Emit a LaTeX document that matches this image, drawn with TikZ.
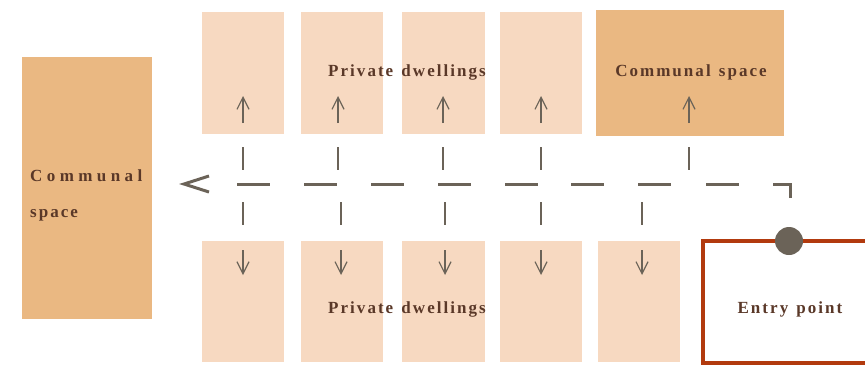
\documentclass[tikz,border=0pt]{standalone}
\usepackage{fontspec}
\setmainfont{Liberation Serif}[LetterSpace=12,WordSpace=1.3]
\newfontfamily\widefont{Liberation Serif}[LetterSpace=26]
\usetikzlibrary{arrows.meta}
\definecolor{peach}{HTML}{F7D9C1}
\definecolor{communal}{HTML}{EAB882}
\definecolor{greyline}{HTML}{6B6358}
\definecolor{redline}{HTML}{B23A0E}
\definecolor{txt}{HTML}{5A3828}
\tikzset{
  dwell/.style={fill=peach, draw=none},
  comm/.style={fill=communal, draw=none},
  lbl/.style={text=txt, font=\bfseries\fontsize{17}{20}\selectfont, inner sep=0pt},
  tick/.style={draw=greyline, line width=1.4pt},
  inarrow/.style={draw=greyline, line width=1.3pt, -{Straight Barb[length=12pt,width=12pt,line width=1.2pt]}},
}
\begin{document}
\begin{tikzpicture}[x=1pt,y=-1pt]
\useasboundingbox (0,0) rectangle (865,365);
% left communal space
\fill[comm] (22,57) rectangle (152,319);
\node[lbl, anchor=west, font=\widefont\bfseries\fontsize{17}{20}\selectfont] (cl1) at (30,176) {Communal};
\node[lbl, anchor=west] (cl2) at (30,215) {space};
% top row
\foreach \a/\b [count=\i] in {202/284,301/383,402/485,500/582}{
  \fill[dwell] (\a,12) rectangle (\b,134);
}
\fill[comm] (596,10) rectangle (784,136);
\node[lbl] (pt) at (407,72) {Private dwellings};
\node[lbl] (ct) at (691,72) {Communal space};
% bottom row
\foreach \a/\b in {202/284,301/383,402/485,500/582,598/680}{
  \fill[dwell] (\a,241) rectangle (\b,362);
}
\node[lbl] (pb) at (407,309) {Private dwellings};
% entry
\draw[redline, line width=3.5pt, fill=white] (870,241) -- (703,241) -- (703,363) -- (870,363);
\node[lbl] (ep) at (790,309) {Entry point};
% main dashed line
\coordinate (corner) at (790,184);
\coordinate (start) at (790,198);
\draw[greyline, line width=3pt] (start) -- (corner) -- (773,184);
\foreach \a in {706,638,571,505,438,371,304,237}{
  \draw[greyline, line width=3pt] (\a,184) -- ++(33,0);
}
\coordinate (arrtip) at (184,184);
\draw[greyline, line width=3pt] (209,176) -- (arrtip) -- (209,192);
% circle
\fill[greyline] (789,241) circle (14);
% top ticks and arrows
\foreach \x in {243,338,443,541,689}{
  \draw[tick] (\x,147) -- (\x,170);
  \draw[inarrow] (\x,123) -- (\x,96);
}
\foreach \x in {243,341,445,541,642}{
  \draw[tick] (\x,202) -- (\x,225);
  \draw[inarrow] (\x,250) -- (\x,275);
}
\end{tikzpicture}
\end{document}
